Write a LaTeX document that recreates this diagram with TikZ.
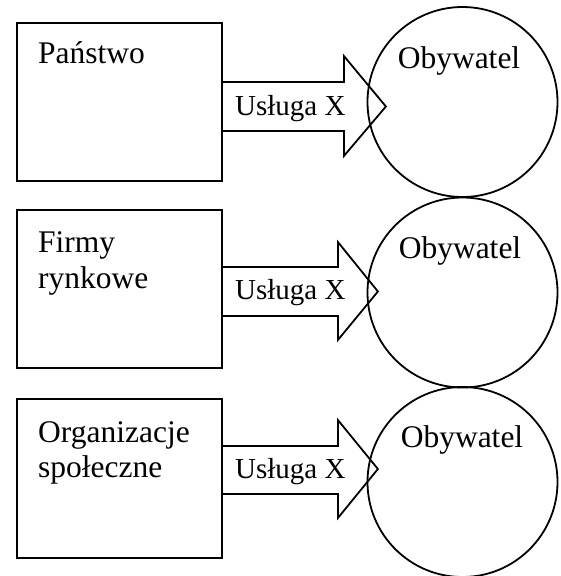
\documentclass[tikz,border=0pt]{standalone}
\usepackage{fontspec}
\setmainfont{Liberation Serif}
\begin{document}
\begin{tikzpicture}[x=1pt,y=-1pt,
  outline/.style={draw=black, line width=1.8pt},
  provider/.style={outline, rectangle, minimum width=205pt, minimum height=158pt, inner sep=0pt},
  citizen/.style={outline, circle, minimum size=190pt, inner sep=0pt},
  boxtext/.style={anchor=base west, inner sep=0pt, font=\fontsize{31.5}{36}\selectfont},
  citytext/.style={anchor=base, inner sep=0pt, font=\fontsize{31.5}{36}\selectfont},
  servtext/.style={anchor=base west, inner sep=0pt, font=\fontsize{29}{34}\selectfont},
  blockarrow/.style={outline, line join=miter}
]
\useasboundingbox (0,0) rectangle (560,576);

% providers
\node[provider] (p1) at (119.5,102) {};
\node[provider] (p2) at (119.5,289) {};
\node[provider, minimum height=159pt] (p3) at (119.5,478.5) {};

% citizens
\node[citizen] (c1) at (462.5,102) {};
\node[citizen] (c2) at (462.5,292.5) {};
\node[citizen] (c3) at (462.5,482) {};

% block arrows from each provider towards the citizen
\draw[blockarrow] (p1.east |- 0,82) -- ++(121,0) -- ++(0,-26) -- ++(42,50.5) -- ++(-42,49.5) -- ++(0,-25) -- ++(-121,0);
\draw[blockarrow] (p2.east |- 0,267) -- ++(115,0) -- ++(0,-25) -- ++(40,49.5) -- ++(-40,48.5) -- ++(0,-24) -- ++(-115,0);
\draw[blockarrow] (p3.east |- 0,446) -- ++(115,0) -- ++(0,-26) -- ++(40,49) -- ++(-40,49) -- ++(0,-24) -- ++(-115,0);

% provider names
\node[boxtext] (t1) at (38,63) {Państwo};
\node[boxtext] (t2a) at (38,252) {Firmy};
\node[boxtext] (t2b) at (38,288) {rynkowe};
\node[boxtext] (t3a) at (38,442) {Organizacje};
\node[boxtext] (t3b) at (38,477) {społeczne};

% citizen labels
\node[citytext] (o1) at (459,68) {Obywatel};
\node[citytext] (o2) at (460,258) {Obywatel};
\node[citytext] (o3) at (462,447) {Obywatel};

% service labels
\node[servtext] (u1) at (235,115) {Usługa X};
\node[servtext] (u2) at (235,299) {Usługa X};
\node[servtext] (u3) at (235,478) {Usługa X};
\end{tikzpicture}
\end{document}
